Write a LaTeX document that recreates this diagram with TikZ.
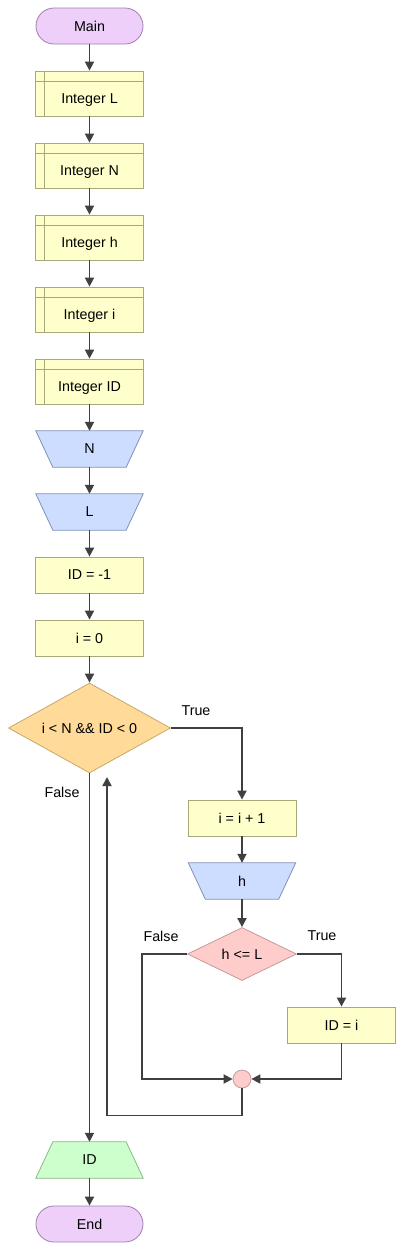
\documentclass[tikz,border=0pt]{standalone}
\usepackage{fontspec}
\setmainfont{Liberation Sans}
\usetikzlibrary{shapes.geometric,arrows.meta,backgrounds}
\definecolor{termfill}{HTML}{EDCFFA}
\definecolor{termdraw}{HTML}{A080B0}
\definecolor{declfill}{HTML}{FFFFCC}
\definecolor{decldraw}{HTML}{A8A878}
\definecolor{infill}{HTML}{CCDDFF}
\definecolor{indraw}{HTML}{8090B8}
\definecolor{loopfill}{HTML}{FFDA99}
\definecolor{loopdraw}{HTML}{C8A868}
\definecolor{iffill}{HTML}{FFCCCC}
\definecolor{ifdraw}{HTML}{C89898}
\definecolor{outfill}{HTML}{CCFFCC}
\definecolor{outdraw}{HTML}{88B888}
\definecolor{linecol}{HTML}{404040}
\begin{document}
\begin{tikzpicture}[x=1pt,y=-1pt,
  every node/.style={font=\fontsize{14.3pt}{16pt}\selectfont, inner sep=0pt},
  term/.style={draw=termdraw, fill=termfill, line width=0.8pt, rounded corners=18pt, minimum width=107pt, minimum height=36pt},
  decl/.style={draw=decldraw, fill=declfill, line width=0.8pt, minimum width=108pt, minimum height=45pt, text height=23pt, text depth=3pt,
    path picture={\draw[decldraw, line width=0.8pt] ([xshift=9pt]path picture bounding box.north west) -- ([xshift=9pt]path picture bounding box.south west);
      \draw[decldraw, line width=0.8pt] ([yshift=-10pt]path picture bounding box.north west) -- ([yshift=-10pt]path picture bounding box.north east);}},
  proc/.style={draw=decldraw, fill=declfill, line width=0.8pt, minimum width=108pt, minimum height=36pt},
  slot/.style={rectangle, minimum width=107pt, minimum height=36pt},
  inshape/.style={draw=indraw, fill=infill, line width=0.8pt, line join=miter},
  outshape/.style={draw=outdraw, fill=outfill, line width=0.8pt, line join=miter},
  loopdia/.style={diamond, aspect=1.8, draw=loopdraw, fill=loopfill, line width=0.8pt, minimum width=162pt, minimum height=90pt},
  ifdia/.style={diamond, aspect=2.05, draw=ifdraw, fill=iffill, line width=0.8pt, minimum width=109pt, minimum height=53pt},
  junc/.style={circle, draw=ifdraw, fill=iffill, line width=0.8pt, minimum size=18pt},
  lbl/.style={font=\fontsize{14.3pt}{16pt}\selectfont},
  arr/.style={draw=linecol, line width=1.8pt, -{Triangle[length=9pt,width=9pt]}},
  ln/.style={draw=linecol, line width=1.8pt}
]
\useasboundingbox (0,0) rectangle (404,1250);

\node[term] (main) at (89.5,26) {Main};
\node[decl] (dL) at (89.5,93.5) {Integer L};
\node[decl] (dN) at (89.5,165.5) {Integer N};
\node[decl] (dh) at (89.5,237.5) {Integer h};
\node[decl] (di) at (89.5,309.5) {Integer i};
\node[decl] (dID) at (89.5,381.5) {Integer ID};
\node[slot] (inN) at (89.5,449) {N};
\node[slot] (inL) at (89.5,512) {L};
\node[proc] (a1) at (89.5,575) {ID = -1};
\node[proc] (a2) at (89.5,638) {i = 0};
\node[loopdia] (d1) at (89.5,728) {i < N \&\& ID < 0};
\node[proc] (inc) at (242,818) {i = i + 1};
\node[slot] (inh) at (242,881) {h};
\node[ifdia] (d2) at (242,954) {h <= L};
\node[proc] (idi) at (341.5,1025) {ID = i};
\node[junc] (j) at (242,1079) {};
\node[slot] (out) at (89.5,1160) {ID};
\node[term] (end) at (89.5,1224) {End};

\begin{pgfonlayer}{background}
  \foreach \n in {inN,inL,inh}{
    \draw[inshape] (\n.north west) -- (\n.north east) -- ([xshift=-17pt]\n.south east) -- ([xshift=17pt]\n.south west) -- cycle;
  }
  \draw[outshape] ([xshift=17pt]out.north west) -- ([xshift=-17pt]out.north east) -- (out.south east) -- (out.south west) -- cycle;
\end{pgfonlayer}

\node[lbl] (tT) at (196,711) {True};
\node[lbl] (tF) at (62,792) {False};
\node[lbl] (tF2) at (161,936) {False};
\node[lbl] (tT2) at (322,936) {True};

\coordinate (loopend) at (107,777);

\draw[arr] (main) -- (dL);
\draw[arr] (dL) -- (dN);
\draw[arr] (dN) -- (dh);
\draw[arr] (dh) -- (di);
\draw[arr] (di) -- (dID);
\draw[arr] (dID) -- (inN);
\draw[arr] (inN) -- (inL);
\draw[arr] (inL) -- (a1);
\draw[arr] (a1) -- (a2);
\draw[arr] (a2) -- (d1);
\draw[arr] (d1.east) -| (inc.north);
\draw[arr] (inc) -- (inh);
\draw[arr] (inh) -- (d2);
\draw[arr] (d2.east) -| (idi.north);
\draw[arr] (d2.west) -- ++(-45,0) |- (j.west);
\draw[arr] (idi.south) |- (j.east);
\draw[arr] (j.south) -- ++(0,27) -| (loopend);
\draw[arr] (d1.south) -- (out.north);
\draw[arr] (out) -- (end);
\end{tikzpicture}
\end{document}
